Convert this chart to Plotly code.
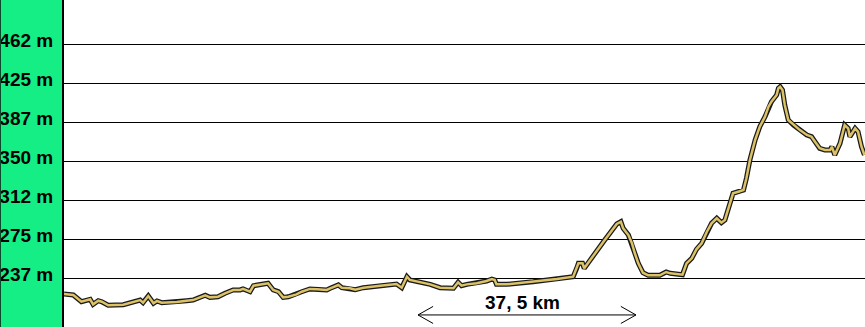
import plotly.graph_objects as go

# Elevation profile
distance_km = [0.0, 1.6, 3.0, 3.9, 4.5, 5.0, 5.9, 6.5, 7.6, 10.2, 11.4, 13.1, 13.6, 14.5,
               15.4, 16.0, 16.8, 19.4, 21.1, 22.2, 23.4, 24.3, 25.1, 26.5, 27.7, 29.1,
               30.3, 30.8, 32.0, 32.6, 35.1, 36.0, 36.9, 37.7, 38.6, 40.0, 40.9, 42.3,
               43.5, 45.2, 45.8, 47.2, 47.8, 49.2, 50.1, 51.5, 54.4, 57.2, 58.1, 59.0,
               59.5, 61.2, 63.0, 64.7, 67.0, 67.8, 68.4, 69.3, 71.0, 72.7, 73.6, 74.1,
               74.4, 76.2, 80.7, 84.8, 87.6, 88.2, 88.5, 89.2, 89.5, 92.8, 95.1, 95.8,
               96.2, 97.1, 97.7, 98.2, 98.8, 99.6, 100.5, 102.5, 103.6, 104.3, 106.4,
               107.1, 108.0, 108.8, 109.7, 110.6, 111.4, 112.3, 113.1, 113.7, 114.3,
               115.1, 116.0, 116.9, 117.4, 118.0, 118.9, 119.7, 120.6, 121.2, 121.7,
               122.6, 122.9, 123.2, 123.6, 124.0, 124.6, 125.5, 126.6, 127.8, 128.6,
               129.2, 130.0, 130.9, 131.8, 132.1, 132.6, 133.5, 134.3, 134.9, 135.2,
               136.1, 136.6, 137.2, 137.7]
elevation_m = [222.1, 221.2, 214.7, 215.7, 217.0, 212.2, 215.7, 214.7, 211.3, 211.8, 213.8,
               216.3, 213.8, 220.2, 213.2, 215.4, 213.8, 214.4, 215.7, 216.3, 218.9, 220.9,
               218.9, 219.5, 222.8, 226.0, 226.0, 227.0, 224.3, 230.1, 232.4, 226.0, 224.3,
               218.9, 219.5, 221.8, 224.3, 227.0, 226.6, 226.0, 227.6, 230.8, 228.2, 227.6,
               226.3, 228.2, 230.1, 231.7, 228.2, 238.8, 235.6, 233.9, 231.4, 228.2, 227.6,
               233.4, 230.1, 231.4, 232.4, 234.6, 236.5, 235.6, 231.4, 231.4, 233.9, 236.5,
               238.8, 246.8, 251.6, 251.6, 246.8, 272.4, 289.4, 291.6, 285.3, 278.8, 270.9,
               261.3, 251.6, 242.6, 240.1, 240.1, 243.3, 242.0, 240.7, 251.6, 256.4, 265.1,
               270.9, 282.0, 290.1, 294.9, 290.7, 293.3, 304.5, 318.9, 320.5, 322.1, 333.4,
               351.0, 370.2, 383.0, 392.6, 402.2, 407.0, 413.5, 419.9, 421.4, 418.3, 403.8,
               389.4, 384.6, 379.7, 375.0, 373.4, 368.6, 362.2, 360.6, 360.6, 363.7, 355.8,
               367.0, 384.6, 381.4, 373.4, 381.4, 378.2, 363.7, 355.8]

tick_values = [237.5, 275.0, 312.5, 350.0, 387.5, 425.0, 462.5]
tick_labels = ["237 m", "275 m", "312 m", "350 m", "387 m", "425 m", "462 m"]

scale_start_km = 60.9
scale_length_km = 37.5
scale_label = "37, 5 km"
scale_y_m = 202.0

x_range = [0, 137.8]
y_range = [190.4, 504.8]

FONT = "Arial, 'Liberation Sans', sans-serif"
GREEN = "#14EE84"
TAN = "#DCC266"

fig = go.Figure()
fig.add_trace(go.Scatter(x=distance_km, y=elevation_m, mode="lines",
                         line=dict(color="#1a1a1a", width=5), hoverinfo="skip"))
fig.add_trace(go.Scatter(x=distance_km, y=elevation_m, mode="lines",
                         line=dict(color=TAN, width=2.5), hoverinfo="skip"))

# scale bar with open arrowheads
x0 = scale_start_km
x1 = scale_start_km + scale_length_km
ax = 2.6   # arm length along x (km)
ay = 8.2   # arm half-height (m)
y = scale_y_m
fig.add_shape(type="line", xref="x", yref="y", x0=x0, x1=x1, y0=y, y1=y,
              line=dict(color="black", width=1))
fig.add_shape(type="path", xref="x", yref="y",
              path=f"M {x0+ax},{y+ay} L {x0},{y} L {x0+ax},{y-ay}",
              line=dict(color="black", width=1))
fig.add_shape(type="path", xref="x", yref="y",
              path=f"M {x1-ax},{y+ay} L {x1},{y} L {x1-ax},{y-ay}",
              line=dict(color="black", width=1))
fig.add_annotation(x=(x0 + x1) / 2, y=y, xref="x", yref="y", text=f"<b>{scale_label}</b>",
                   showarrow=False, yshift=12, xshift=-4,
                   font=dict(family=FONT, size=19, color="black"))

# dark left edge of the green strip
fig.add_shape(type="line", xref="paper", yref="paper", x0=-64 / 801, x1=-64 / 801,
              y0=0, y1=1, line=dict(color="#0a4a2a", width=2))

fig.update_layout(
    width=865, height=327,
    margin=dict(l=64, r=0, t=0, b=0),
    paper_bgcolor=GREEN, plot_bgcolor="white",
    showlegend=False,
)
fig.update_xaxes(range=x_range, showgrid=False, zeroline=False, showticklabels=False,
                 showline=False, fixedrange=True)
fig.update_yaxes(range=y_range, tickvals=tick_values, ticktext=[f"<b>{t}</b>" for t in tick_labels],
                 showgrid=True, gridcolor="black", gridwidth=1, zeroline=False,
                 showline=True, linecolor="black", linewidth=2, ticks="",
                 ticklabelstandoff=5, ticklabelshift=-4,
                 tickfont=dict(family=FONT, size=19, color="black"), fixedrange=True)

fig.write_html("out.html")
